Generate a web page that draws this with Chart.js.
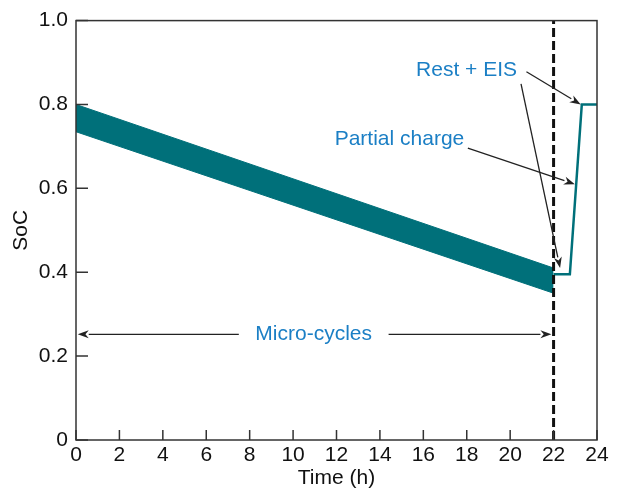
<!DOCTYPE html>
<html><head><meta charset="utf-8">
<script src="https://cdn.jsdelivr.net/npm/chart.js@4"></script>
<style>html,body{margin:0;padding:0;background:#fff;}#wrap{width:618px;height:491px;position:relative;}</style>
</head><body><div id="wrap"><canvas id="c"></canvas></div>
<script>
// ---- data ----
const bandTime = [0, 22];
const bandUpper = [0.80, 0.41];
const bandLower = [0.735, 0.35];
const tailTime = [22, 22.75, 23.3, 24];
const tailSoC = [0.395, 0.395, 0.80, 0.80];
const dividerTime = 22;
const xTickValues = [0, 2, 4, 6, 8, 10, 12, 14, 16, 18, 20, 22, 24];
const yTickValues = [0, 0.2, 0.4, 0.6, 0.8, 1.0];
const yTickLabels = ['0', '0.2', '0.4', '0.6', '0.8', '1.0'];
const labelTexts = ['Rest + EIS', 'Partial charge', 'Micro-cycles'];
const labelTimes = [17.99, 14.9, 10.95];
const labelSoC = [0.882, 0.718, 0.252];
// arrows: [fromT, fromV, toT, toV]
const arrowFromT = [20.75, 20.5, 18.05, 7.5, 14.4];
const arrowFromV = [0.878, 0.849, 0.696, 0.252, 0.252];
const arrowToT = [23.25, 22.3, 22.98, 0.08, 21.9];
const arrowToV = [0.80, 0.41, 0.61, 0.252, 0.252];

const TEAL = '#00707a';
const BLUE = '#1b7fc5';
const FONT = '"Liberation Sans", Arial, Helvetica, sans-serif';

const pts = (xs, ys) => xs.map((x, i) => ({x, y: ys[i]}));

const overlay = {
  id: 'overlay',
  afterDatasetsDraw(chart) {
    const {ctx, chartArea: a, scales: {x, y}} = chart;
    ctx.save();
    // frame
    ctx.strokeStyle = '#333';
    ctx.lineWidth = 1.5;
    ctx.strokeRect(a.left, a.top, a.right - a.left, a.bottom - a.top);
    // inward ticks
    ctx.beginPath();
    xTickValues.forEach(v => { const px = x.getPixelForValue(v); ctx.moveTo(px, a.bottom); ctx.lineTo(px, a.bottom - 10); });
    yTickValues.forEach(v => { const py = y.getPixelForValue(v); ctx.moveTo(a.left, py); ctx.lineTo(a.left + 12, py); });
    ctx.stroke();
    // arrows
    ctx.strokeStyle = '#222';
    ctx.fillStyle = '#222';
    ctx.lineWidth = 1.3;
    arrowFromT.forEach((ft, i) => {
      const x1 = x.getPixelForValue(ft), y1 = y.getPixelForValue(arrowFromV[i]);
      const x2 = x.getPixelForValue(arrowToT[i]), y2 = y.getPixelForValue(arrowToV[i]);
      const ang = Math.atan2(y2 - y1, x2 - x1);
      const L = 11, W = 4;
      const bx = x2 - L * Math.cos(ang), by = y2 - L * Math.sin(ang);
      ctx.beginPath(); ctx.moveTo(x1, y1); ctx.lineTo(bx, by); ctx.stroke();
      ctx.beginPath();
      ctx.moveTo(x2, y2);
      ctx.lineTo(bx + W * Math.sin(ang), by - W * Math.cos(ang));
      ctx.lineTo(x2 - 0.7 * L * Math.cos(ang), y2 - 0.7 * L * Math.sin(ang));
      ctx.lineTo(bx - W * Math.sin(ang), by + W * Math.cos(ang));
      ctx.closePath(); ctx.fill();
    });
    // labels
    ctx.fillStyle = BLUE;
    ctx.font = '21px ' + FONT;
    ctx.textAlign = 'center';
    ctx.textBaseline = 'middle';
    labelTexts.forEach((t, i) => ctx.fillText(t, x.getPixelForValue(labelTimes[i]), y.getPixelForValue(labelSoC[i])));
    ctx.restore();
  }
};

new Chart(document.getElementById('c'), {
  type: 'line',
  data: {
    datasets: [
      {data: pts(bandTime, bandUpper), borderColor: TEAL, backgroundColor: TEAL, borderWidth: 1, pointRadius: 0, fill: '+1', tension: 0, order: 3},
      {data: pts(bandTime, bandLower), borderColor: TEAL, borderWidth: 1, pointRadius: 0, fill: false, tension: 0, order: 3},
      {data: pts(tailTime, tailSoC), borderColor: TEAL, borderWidth: 2.5, pointRadius: 0, fill: false, tension: 0, order: 2},
      {data: [{x: dividerTime, y: 0}, {x: dividerTime, y: 1}], borderColor: '#111', borderWidth: 3, borderDash: [9, 4], pointRadius: 0, fill: false, order: 1}
    ]
  },
  options: {
    responsive: true,
    maintainAspectRatio: false,
    animation: false,
    layout: {padding: {top: 15, right: 21, left: 0, bottom: 0}},
    plugins: {legend: {display: false}, tooltip: {enabled: false}},
    scales: {
      x: {
        type: 'linear', min: 0, max: 24,
        afterBuildTicks: s => { s.ticks = xTickValues.map(v => ({value: v})); },
        afterFit: s => { s.height = 51; },
        grid: {display: false, drawTicks: false},
        border: {display: false},
        ticks: {color: '#111', font: {family: FONT, size: 21}, padding: 3, maxRotation: 0, autoSkip: false},
        title: {display: true, text: 'Time (h)', color: '#111', font: {family: FONT, size: 21}, padding: {top: 0, bottom: 0}}
      },
      y: {
        type: 'linear', min: 0, max: 1,
        afterBuildTicks: s => { s.ticks = yTickValues.map(v => ({value: v})); },
        afterFit: s => { s.width = 76; },
        grid: {display: false, drawTicks: false},
        border: {display: false},
        ticks: {color: '#111', font: {family: FONT, size: 21}, padding: 8, autoSkip: false,
          callback: (v) => yTickLabels[yTickValues.findIndex(t => Math.abs(t - v) < 1e-9)]},
        title: {display: true, text: 'SoC', color: '#111', font: {family: FONT, size: 21}, padding: {top: 9, bottom: 0}}
      }
    }
  },
  plugins: [overlay]
});
</script></body></html>
